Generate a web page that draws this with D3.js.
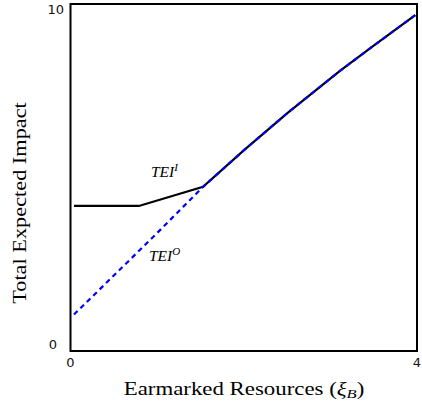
<!DOCTYPE html>
<html><head><meta charset="utf-8">
<script src="https://cdn.jsdelivr.net/npm/d3@7/dist/d3.min.js"></script>
<style>body{margin:0;background:#fff}</style>
</head><body>
<script>
// Data
const xDomain = [0, 4];
const yDomain = [0, 10];
const xTickLabels = ["0", "4"];
const yTickLabels = ["0", "10"];
// TEI^O (blue dashed)
const teiOx = [0.04, 0.6, 1.0, 1.53, 2.0, 2.5, 3.11, 3.5, 3.98];
const teiOy = [1.05, 2.42, 3.4, 4.73, 5.78, 6.85, 8.07, 8.8, 9.68];
// TEI^I (black solid)
const teiIx = [0.04, 0.79, 1.53, 2.0, 2.5, 3.11, 3.5, 3.98];
const teiIy = [4.18, 4.18, 4.73, 5.78, 6.85, 8.07, 8.8, 9.68];

const W = 422, H = 404;
const m = {left: 70.5, top: 4, right: 5, bottom: 53};
const svg = d3.select("body").append("svg").attr("width", W).attr("height", H);
const x = d3.scaleLinear().domain(xDomain).range([m.left, W - m.right]);
const y = d3.scaleLinear().domain(yDomain).range([H - m.bottom, m.top]);

const line = d3.line().x(d => x(d[0])).y(d => y(d[1]));
const ptsI = teiIx.map((v, i) => [v, teiIy[i]]);
const ptsO = teiOx.map((v, i) => [v, teiOy[i]]);

svg.append("path").attr("d", line(ptsI)).attr("fill", "none")
  .attr("stroke", "#000").attr("stroke-width", 2.2);
svg.append("path").attr("d", line(ptsO)).attr("fill", "none")
  .attr("stroke", "#0000ff").attr("stroke-width", 2.2).attr("stroke-dasharray", "5,4");

// frame
svg.append("rect").attr("x", x(0)).attr("y", y(10)).attr("width", x(4) - x(0)).attr("height", y(0) - y(10))
  .attr("fill", "none").attr("stroke", "#000").attr("stroke-width", 2);

// ticks (labels only)
const tickFont = "'DejaVu Sans', sans-serif";
svg.append("g").selectAll("text").data(yTickLabels).join("text")
  .attr("x", d => d === "10" ? 64 : 57).attr("y", d => y(+d) + (d === "10" ? 10 : -2))
  .attr("text-anchor", "end").attr("font-family", tickFont).attr("font-size", 13).attr("fill", "#111").text(d => d);
svg.append("g").selectAll("text").data(xTickLabels).join("text")
  .attr("x", d => x(+d)).attr("y", 367)
  .attr("text-anchor", "middle").attr("font-family", tickFont).attr("font-size", 13).attr("fill", "#111").text(d => d);

// axis titles
const serif = "'Liberation Serif', 'Times New Roman', serif";
const xt = svg.append("g").attr("transform", "translate(244,395) scale(1.27,1)")
  .append("text").attr("text-anchor", "middle")
  .attr("font-family", serif).attr("font-size", 18).attr("fill", "#000");
xt.append("tspan").text("Earmarked Resources (");
xt.append("tspan").attr("font-style", "italic").text("ξ");
xt.append("tspan").attr("font-style", "italic").attr("font-size", 13).attr("dy", 3).text("B");
xt.append("tspan").attr("dy", -3).text(")");

svg.append("g").attr("transform", "translate(26,203) rotate(-90) scale(1.24,1)")
  .append("text").attr("text-anchor", "middle")
  .attr("font-family", serif).attr("font-size", 18).attr("fill", "#000").text("Total Expected Impact");

// curve labels
function lab(px, py, sup) {
  const t = svg.append("text").attr("x", px).attr("y", py).attr("font-family", serif)
    .attr("font-style", "italic").attr("font-size", 15.5).attr("fill", "#000");
  t.append("tspan").text("TEI");
  t.append("tspan").attr("font-size", 11).attr("dy", -6).text(sup);
}
lab(151, 177, "I");
lab(149, 261, "O");
</script>
</body></html>
